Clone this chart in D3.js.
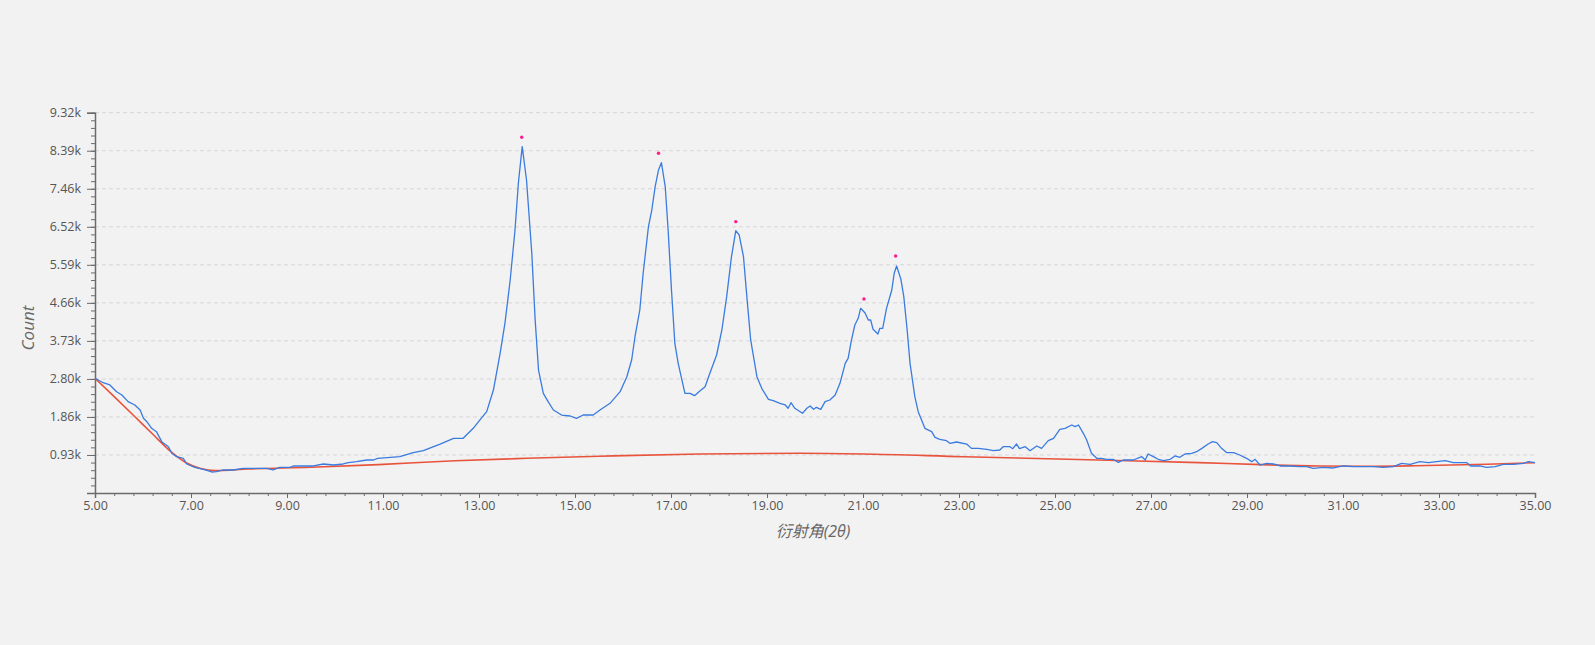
<!DOCTYPE html>
<html>
<head>
<meta charset="utf-8">
<script src="https://cdn.jsdelivr.net/npm/d3@7/dist/d3.min.js"></script>
<style>
  html, body { margin: 0; padding: 0; background: #f2f2f2; }
  svg { display: block; }
  text { font-family: "Segoe UI", "Open Sans", "Noto Sans", "Noto Sans CJK SC", sans-serif; }
</style>
</head>
<body>
<svg id="chart" width="1595" height="645"></svg>
<script>
// ---- data ----
const angles = [5.00,5.17,5.31,5.45,5.56,5.69,5.83,5.94,6.01,6.08,6.18,6.28,6.39,6.53,6.60,6.70,6.84,6.91,7.08,7.26,7.43,7.53,7.67,7.88,8.09,8.30,8.58,8.71,8.85,9.06,9.13,9.34,9.55,9.76,9.97,10.17,10.28,10.45,10.66,10.80,10.89,
11.35,11.63,11.84,12.19,12.47,12.67,12.88,13.02,13.16,13.30,13.44,13.54,13.65,13.75,13.82,13.90,13.99,14.10,14.17,14.24,14.34,14.44,14.55,14.72,14.90,15.03,15.17,15.38,15.52,15.73,15.94,
16.08,16.18,16.25,16.35,16.42,16.53,16.60,16.67,16.74,16.80,16.88,16.94,17.01,17.08,17.15,17.29,17.40,17.49,17.60,17.71,17.81,17.95,18.06,18.16,18.26,18.35,18.42,18.51,18.58,18.66,18.79,18.89,19.03,19.13,19.27,19.38,19.44,19.50,19.58,19.74,19.83,19.90,19.97,20.03,20.12,20.21,
20.31,20.42,20.52,20.63,20.69,20.76,20.83,20.90,20.95,21.04,21.11,21.16,21.21,21.31,21.35,21.41,21.49,21.60,21.65,21.70,21.79,21.85,21.92,21.98,22.08,22.15,22.29,22.43,22.50,22.60,22.74,22.81,22.95,23.16,23.26,23.40,23.58,23.72,23.85,23.92,24.06,24.12,24.20,24.26,24.38,24.48,24.62,24.72,24.86,24.97,25.10,25.21,25.35,25.42,25.49,25.59,25.66,25.76,25.87,
25.97,26.07,26.21,26.32,26.42,26.63,26.81,26.88,26.94,27.05,27.15,27.26,27.40,27.50,27.60,27.71,27.85,27.95,28.06,28.19,28.28,28.37,28.47,28.58,28.72,28.85,28.99,29.10,29.17,29.27,29.41,29.55,29.69,29.90,30.10,30.24,30.38,30.59,30.80,31.01,31.22,31.42,31.63,31.84,32.05,32.22,32.40,32.60,32.78,32.95,33.13,33.30,33.58,33.66,33.85,33.99,34.17,34.34,34.55,34.76,34.86,35.00];
const counts = [2811,2703,2647,2483,2402,2238,2157,2034,1830,1748,1585,1503,1258,1135,973,890,850,711,629,580,515,523,564,564,605,605,605,564,629,629,662,662,662,711,686,711,743,768,809,809,850,
890,988,1037,1200,1340,1340,1585,1790,1993,2524,3423,4158,5220,6445,7590,8487,7670,5874,4240,3014,2443,2238,2034,1911,1887,1830,1911,1911,2034,2198,2483,
2850,3260,3830,4485,5384,6527,6935,7507,7916,8095,7507,6445,4975,3668,3178,2443,2443,2386,2500,2606,2933,3382,3995,4812,5791,6429,6323,5791,4812,3750,2850,2565,2296,2262,2198,2157,2076,2213,2076,1953,2076,2132,2051,2100,2051,2238,
2279,2402,2688,3178,3301,3750,4117,4281,4526,4419,4240,4240,4011,3897,4036,4036,4526,4975,5384,5563,5237,4812,3995,3178,2360,1993,1585,1503,1364,1315,1282,1217,1250,1200,1094,1094,1070,1037,1054,1135,1135,1086,1200,1086,1135,1037,1152,1094,1282,1340,1561,1585,1666,1625,1666,1463,1299,973,850,
850,826,826,752,809,809,890,809,956,890,826,792,826,907,875,956,973,1012,1094,1200,1258,1233,1094,988,988,931,850,768,826,686,727,711,662,662,645,645,605,629,613,662,645,645,645,629,645,727,703,768,743,768,792,743,743,662,662,629,645,703,703,727,768,743];

const baseAngles = [5.0,5.4,5.8,6.2,6.6,6.9,7.2,7.5,8.2,9.5,10.9,12.5,14.0,15.5,17.6,19.7,21.0,23.1,25.9,28.0,29.3,30.5,31.5,32.5,34.0,35.0];
const baseCounts = [2811,2360,1905,1445,995,740,600,548,588,630,695,790,850,900,956,973,956,890,809,745,695,662,655,668,705,743];

const peakAngles = [13.89,16.74,18.35,21.02,21.68];
const peakCounts = [8717,8325,6650,4754,5808];

const yTickValues = [0,932,1864,2796,3728,4660,5592,6524,7456,8388,9320];
const yTickLabels = ["","0.93k","1.86k","2.80k","3.73k","4.66k","5.59k","6.52k","7.46k","8.39k","9.32k"];
const xTickValues = [5,7,9,11,13,15,17,19,21,23,25,27,29,31,33,35];
const xTickLabels = ["5.00","7.00","9.00","11.00","13.00","15.00","17.00","19.00","21.00","23.00","25.00","27.00","29.00","31.00","33.00","35.00"];
const xTitle = "衍射角(2θ)";
const yTitle = "Count";

// ---- chart ----
(function () {
const svg = d3.select("#chart");
const pLeft = 95, pRight = 1535, pTop = 112.7, pBottom = 493;
const x = d3.scaleLinear().domain([5, 35]).range([pLeft, pRight]);
const y = d3.scaleLinear().domain([0, 9320]).range([pBottom, pTop]);

// grid
svg.append("g").selectAll("line")
  .data(yTickValues.filter(v => v > 0))
  .join("line")
  .attr("x1", pLeft).attr("x2", pRight)
  .attr("y1", d => y(d)).attr("y2", d => y(d))
  .attr("stroke", "#d6d6d6").attr("stroke-width", 1)
  .attr("stroke-dasharray", "4,3");

// minor ticks
const yMinor = d3.range(0, 9320.1, 186.4);
const xMinor = d3.range(5, 35.001, 0.4);
const axisColor = "#6b6b6b";

const gyMinor = svg.append("g").attr("transform", `translate(${pLeft},0)`)
  .call(d3.axisLeft(y).tickValues(yMinor).tickSize(4).tickFormat(""));
const gxMinor = svg.append("g").attr("transform", `translate(0,${pBottom})`)
  .call(d3.axisBottom(x).tickValues(xMinor).tickSize(3).tickFormat(""));
[gyMinor, gxMinor].forEach(g => {
  g.select(".domain").remove();
  g.selectAll("line").attr("stroke", axisColor);
});

const gy = svg.append("g").attr("transform", `translate(${pLeft},0)`)
  .call(d3.axisLeft(y).tickValues(yTickValues).tickSize(8).tickPadding(6)
    .tickFormat((d, i) => yTickLabels[i]));
const gx = svg.append("g").attr("transform", `translate(0,${pBottom})`)
  .call(d3.axisBottom(x).tickValues(xTickValues).tickSize(5).tickPadding(3)
    .tickFormat((d, i) => xTickLabels[i]));
[gy, gx].forEach(g => {
  g.select(".domain").attr("stroke", axisColor).attr("stroke-width", 1.5);
  g.selectAll("line").attr("stroke", axisColor);
  g.selectAll("text").attr("fill", "#555").style("font-size", "12.5px")
    .style("font-family", "'Segoe UI','Open Sans','Noto Sans',sans-serif");
});

// baseline (red)
const baseData = baseAngles.map((a, i) => [a, baseCounts[i]]);
svg.append("path").datum(baseData)
  .attr("fill", "none").attr("stroke", "#e8533c").attr("stroke-width", 1.6)
  .attr("d", d3.line().x(d => x(d[0])).y(d => y(d[1])).curve(d3.curveMonotoneX));

// diffraction pattern (blue)
const data = angles.map((a, i) => [a, counts[i]]);
svg.append("path").datum(data)
  .attr("fill", "none").attr("stroke", "#3a7be0").attr("stroke-width", 1.3)
  .attr("stroke-linejoin", "round")
  .attr("d", d3.line().x(d => x(d[0])).y(d => y(d[1])));

// peak markers
svg.append("g").selectAll("circle")
  .data(peakAngles.map((a, i) => [a, peakCounts[i]]))
  .join("circle")
  .attr("cx", d => x(d[0])).attr("cy", d => y(d[1]))
  .attr("r", 1.7).attr("fill", "#ff1a8c");

// titles
svg.append("text")
  .attr("x", (pLeft + pRight) / 2 - 2).attr("y", 537)
  .attr("text-anchor", "middle")
  .attr("fill", "#666").style("font-size", "16px").style("font-style", "italic")
  .style("font-family", "'Segoe UI','Open Sans','Noto Sans','Noto Sans CJK SC',sans-serif")
  .text(xTitle);
svg.append("text")
  .attr("transform", "translate(34,328) rotate(-90)")
  .attr("text-anchor", "middle")
  .attr("fill", "#666").style("font-size", "17px").style("font-style", "italic")
  .text(yTitle);
})();
</script>
</body>
</html>
